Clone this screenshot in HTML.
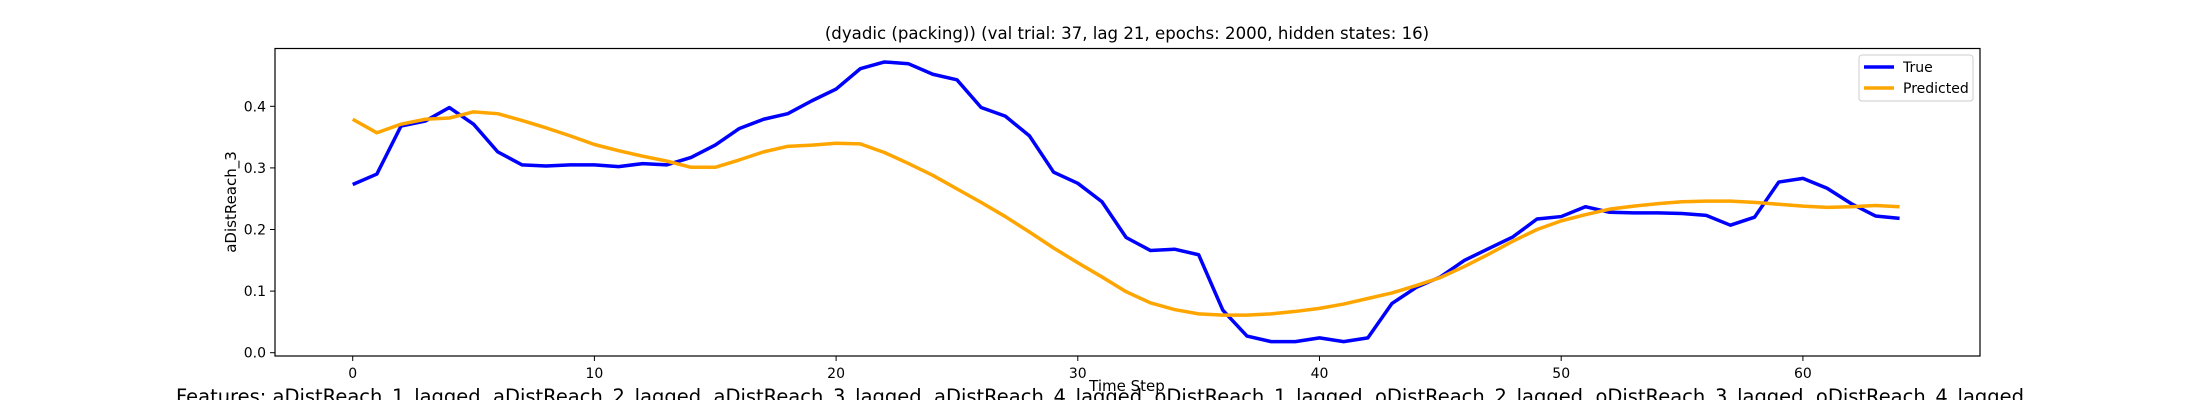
<!DOCTYPE html>
<html><head><meta charset="utf-8"><style>
html,body{margin:0;padding:0;background:#fff;overflow:hidden;width:2200px;height:400px}
svg{display:block;font-family:"DejaVu Sans","Liberation Sans",sans-serif}
</style></head><body>
<svg id="chart" width="2200" height="400">
<text x="1127" y="39" font-size="16.6" text-anchor="middle">(dyadic (packing)) (val trial: 37, lag 21, epochs: 2000, hidden states: 16)</text>
<g id="axes"></g>
<g id="series"></g>
<rect x="275" y="48.5" width="1705" height="307.5" fill="none" stroke="#000" stroke-width="1.2"/>
<text x="1127" y="391" font-size="15" text-anchor="middle">Time Step</text>
<text transform="translate(236,202) rotate(-90)" font-size="15" text-anchor="middle">aDistReach_3</text>
<text x="176" y="403" font-size="19.5" textLength="1848" lengthAdjust="spacingAndGlyphs">Features: aDistReach_1_lagged, aDistReach_2_lagged, aDistReach_3_lagged, aDistReach_4_lagged, oDistReach_1_lagged, oDistReach_2_lagged, oDistReach_3_lagged, oDistReach_4_lagged</text>
<g>
<rect x="1859" y="55" width="114" height="46" rx="3" fill="#fff" fill-opacity="0.8" stroke="#ccc"/>
<line x1="1864" y1="67" x2="1894" y2="67" stroke="#0000ff" stroke-width="3.5"/>
<text x="1903" y="72" font-size="14">True</text>
<line x1="1864" y1="88" x2="1894" y2="88" stroke="#ffa500" stroke-width="3.5"/>
<text x="1903" y="93" font-size="14">Predicted</text>
</g>
</svg>
<script>
const trueVals=[0.273,0.290,0.368,0.376,0.398,0.371,0.326,0.305,0.303,0.305,0.305,0.302,0.307,0.305,0.317,0.337,0.364,0.379,0.388,0.409,0.428,0.461,0.472,0.469,0.452,0.443,0.398,0.384,0.352,0.293,0.275,0.245,0.187,0.166,0.168,0.159,0.069,0.027,0.018,0.018,0.024,0.018,0.024,0.080,0.106,0.123,0.150,0.169,0.188,0.217,0.221,0.237,0.228,0.227,0.227,0.226,0.223,0.207,0.220,0.277,0.283,0.267,0.242,0.222,0.218];
const predVals=[0.379,0.357,0.371,0.379,0.381,0.391,0.388,0.377,0.365,0.352,0.338,0.328,0.319,0.311,0.301,0.301,0.313,0.326,0.335,0.337,0.340,0.339,0.325,0.307,0.288,0.266,0.244,0.221,0.196,0.170,0.146,0.123,0.099,0.081,0.070,0.063,0.061,0.061,0.063,0.067,0.072,0.079,0.088,0.097,0.109,0.122,0.140,0.160,0.181,0.200,0.214,0.224,0.233,0.238,0.242,0.245,0.246,0.246,0.244,0.241,0.238,0.236,0.237,0.239,0.237];
const xTicks=[0,10,20,30,40,50,60];
const yTicks=[0.0,0.1,0.2,0.3,0.4];
const yTickLabels=["0.0","0.1","0.2","0.3","0.4"];
const NS="http://www.w3.org/2000/svg";
function xs(v){return 352.7+v*24.17;}
function ys(v){return 352.7-v*616;}
const axes=document.getElementById('axes');
xTicks.forEach(t=>{
 const l=document.createElementNS(NS,'line');
 l.setAttribute('x1',xs(t));l.setAttribute('x2',xs(t));l.setAttribute('y1',356);l.setAttribute('y2',361);l.setAttribute('stroke','#000');
 
 
 axes.appendChild(l);
 const tx=document.createElementNS(NS,'text');
 tx.setAttribute('x',xs(t));tx.setAttribute('y',378);tx.setAttribute('font-size','14');tx.setAttribute('text-anchor','middle');
 tx.textContent=String(t);
 
 
 axes.appendChild(tx);
});
yTicks.forEach((t,i)=>{
 const l=document.createElementNS(NS,'line');
 l.setAttribute('x1',270);l.setAttribute('x2',275);l.setAttribute('y1',ys(t));l.setAttribute('y2',ys(t));l.setAttribute('stroke','#000');
 
 
 axes.appendChild(l);
 const tx=document.createElementNS(NS,'text');
 tx.setAttribute('x',266);tx.setAttribute('y',ys(t)+5);tx.setAttribute('font-size','14');tx.setAttribute('text-anchor','end');
 tx.textContent=yTickLabels[i];
 
 
 axes.appendChild(tx);
});
const series=document.getElementById('series');
function addLine(vals,color,name){
 const p=document.createElementNS(NS,'polyline');
 p.setAttribute('points',vals.map((v,i)=>xs(i)+','+ys(v)).join(' '));
 p.setAttribute('fill','none');p.setAttribute('stroke',color);p.setAttribute('stroke-width','3.5');p.setAttribute('stroke-linejoin','round');
 
 
 series.appendChild(p);
}
addLine(trueVals,'#0000ff','true-line');
addLine(predVals,'#ffa500','predicted-line');
</script>
</body></html>
